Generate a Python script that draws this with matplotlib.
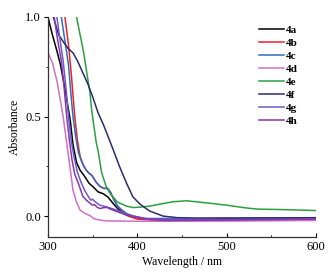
import numpy as np
import matplotlib
matplotlib.use("Agg")
import matplotlib.pyplot as plt
from matplotlib.ticker import MultipleLocator

plt.rcParams['font.family'] = ['Liberation Serif', 'DejaVu Serif']

labels = ['4a', '4b', '4c', '4d', '4e', '4f', '4g', '4h']
colors = ['#000000', '#ee2222', '#2f6cc0', '#d070c8', '#2ca040', '#2b2b6e', '#6a5acd', '#8a35a8']

# wavelength (nm) / absorbance pairs
wl_4a = [300, 305, 310, 314, 319, 322, 325, 328, 332, 336, 341, 346, 351, 356, 362, 367, 370, 373, 378, 382, 388, 395, 410, 500, 600]
ab_4a = [1.0, 0.91, 0.83, 0.76, 0.64, 0.56, 0.48, 0.36, 0.27, 0.23, 0.20, 0.165, 0.145, 0.122, 0.112, 0.096, 0.08, 0.063, 0.038, 0.022, 0.005, -0.005, -0.015, -0.014, -0.01]

wl_4b = [315, 319, 323, 326, 330, 333, 336, 340, 343, 346, 349, 354, 358, 362, 367, 370, 374, 378, 383, 390, 400, 420, 500, 600]
ab_4b = [1.15, 1.0, 0.86, 0.72, 0.5, 0.38, 0.30, 0.25, 0.23, 0.215, 0.205, 0.17, 0.15, 0.14, 0.138, 0.12, 0.08, 0.05, 0.025, 0.0, -0.015, -0.022, -0.018, -0.012]

wl_4c = [312, 315, 319, 323, 326, 328, 331, 334, 338, 343, 346, 349, 354, 358, 362, 367, 370, 374, 378, 383, 388, 395, 410, 500, 600]
ab_4c = [1.1, 1.0, 0.88, 0.76, 0.6, 0.5, 0.4, 0.32, 0.27, 0.23, 0.215, 0.206, 0.17, 0.15, 0.14, 0.138, 0.12, 0.08, 0.05, 0.03, 0.013, 0.0, -0.012, -0.012, -0.01]

wl_4d = [300, 305, 310, 314, 317, 320, 323, 326, 328, 332, 336, 342, 347, 351, 358, 365, 400, 500, 600]
ab_4d = [0.82, 0.77, 0.68, 0.58, 0.5, 0.40, 0.30, 0.20, 0.13, 0.07, 0.03, 0.012, 0.003, -0.012, -0.02, -0.024, -0.026, -0.025, -0.022]

wl_4e = [330, 332, 340, 347, 349, 354, 356, 360, 365, 370, 378, 388, 395, 403, 414, 425, 440, 455, 470, 500, 520, 535, 560, 600]
ab_4e = [1.05, 1.0, 0.82, 0.62, 0.53, 0.37, 0.33, 0.22, 0.15, 0.11, 0.07, 0.05, 0.043, 0.045, 0.05, 0.06, 0.072, 0.077, 0.07, 0.055, 0.042, 0.035, 0.033, 0.028]

wl_4f = [304, 306, 312, 318, 323, 328, 333, 338, 345, 350, 356, 362, 369, 375, 380, 388, 395, 403, 414, 429, 445, 466, 600]
ab_4f = [1.05, 1.0, 0.91, 0.87, 0.84, 0.82, 0.78, 0.73, 0.66, 0.60, 0.52, 0.46, 0.38, 0.31, 0.25, 0.165, 0.097, 0.06, 0.025, 0.0, -0.008, -0.01, -0.008]

wl_4g = [308, 310, 313, 317, 320, 323, 326, 329, 333, 337, 341, 345, 348, 350, 352, 358, 365, 370, 377, 385, 392, 410, 500, 600]
ab_4g = [1.08, 1.0, 0.9, 0.78, 0.65, 0.5, 0.38, 0.30, 0.22, 0.17, 0.13, 0.10, 0.08, 0.085, 0.075, 0.055, 0.047, 0.04, 0.03, 0.015, 0.005, -0.015, -0.018, -0.015]

wl_4h = [305, 307, 311, 315, 318, 321, 324, 327, 330, 334, 339, 343, 347, 350, 352, 355, 358, 362, 366, 370, 374, 380, 388, 403, 430, 500, 600]
ab_4h = [1.08, 1.0, 0.88, 0.78, 0.65, 0.5, 0.38, 0.28, 0.21, 0.165, 0.10, 0.08, 0.065, 0.055, 0.058, 0.045, 0.038, 0.042, 0.044, 0.035, 0.028, 0.018, 0.005, -0.01, -0.022, -0.02, -0.015]

series = [(wl_4a, ab_4a), (wl_4b, ab_4b), (wl_4c, ab_4c), (wl_4d, ab_4d),
          (wl_4e, ab_4e), (wl_4f, ab_4f), (wl_4g, ab_4g), (wl_4h, ab_4h)]

fig = plt.figure(figsize=(3.33, 2.74), dpi=100)
ax = fig.add_axes([0.144, 0.135, 0.805, 0.803])

for (wl, ab), lab, col in zip(series, labels, colors):
    ax.plot(wl, ab, color=col, lw=1.1, label=lab)

ax.set_xlim(300, 600)
ax.set_ylim(-0.105, 1.0)
ax.spines['top'].set_visible(False)
ax.spines['right'].set_visible(False)
for s in ['left', 'bottom']:
    ax.spines[s].set_color('#333333')
    ax.spines[s].set_linewidth(0.9)

ax.xaxis.set_major_locator(MultipleLocator(100))
ax.xaxis.set_minor_locator(MultipleLocator(50))
ax.yaxis.set_major_locator(MultipleLocator(0.5))
ax.yaxis.set_minor_locator(MultipleLocator(0.25))
ax.tick_params(axis='x', which='major', direction='in', length=3, labelsize=9, pad=3)
ax.tick_params(axis='x', which='minor', direction='in', length=1.5)
ax.tick_params(axis='y', which='major', direction='out', length=3, labelsize=9, pad=2)
ax.tick_params(axis='y', which='minor', direction='out', length=1.5)
ax.yaxis.set_major_formatter(matplotlib.ticker.FormatStrFormatter('%.1f'))

ax.set_xlabel('Wavelength / nm', fontsize=8.5, labelpad=2)
ax.set_ylabel('Absorbance', fontsize=8.5, labelpad=3)

leg = ax.legend(loc='upper left', bbox_to_anchor=(0.772, 0.985), frameon=False,
                handlelength=2.2, handletextpad=0.2, labelspacing=0.3,
                prop={'weight': 'bold', 'size': 8}, borderaxespad=0)

fig.savefig('out.png', dpi=100)
